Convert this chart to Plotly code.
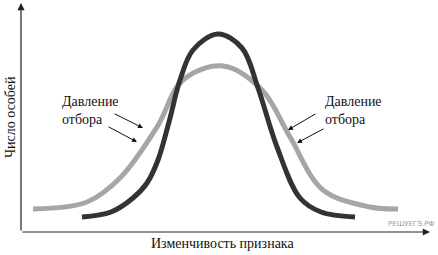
import plotly.graph_objects as go

# Curves (x: trait value, y: number of individuals)
dark_x = [61, 90, 112, 126, 137, 148, 159, 172, 197, 221, 237, 256, 279, 300, 334]
dark_y = [15, 20, 34, 49, 72, 110, 152, 182, 198, 184, 144, 85, 34, 20, 15]
gray_x = [12, 66, 99, 136, 162, 202, 241, 269, 302, 349, 377]
gray_y = [23, 30, 54, 105, 152, 166, 142, 95, 42, 25, 23]

label_text = "Давление<br>отбора"
y_title = "Число особей"
x_title = "Изменчивость признака"
watermark = "РЕШУЕГЭ.РФ"

fig = go.Figure()
fig.add_trace(go.Scatter(x=gray_x, y=gray_y, mode="lines",
                         line=dict(color="#a6a6a6", width=5, shape="spline", smoothing=1.0),
                         hoverinfo="skip", showlegend=False))
fig.add_trace(go.Scatter(x=dark_x, y=dark_y, mode="lines",
                         line=dict(color="#333333", width=5, shape="spline", smoothing=1.0),
                         hoverinfo="skip", showlegend=False))

serif = "'Liberation Serif', 'DejaVu Serif', serif"
ann = []
# axes with arrows
ann.append(dict(x=0, y=229, ax=0, ay=0, axref="x", ayref="y", xref="x", yref="y",
                showarrow=True, arrowhead=2, arrowsize=1.2, arrowwidth=1.2, arrowcolor="#222", text=""))
ann.append(dict(x=409, y=0, ax=0, ay=0, axref="x", ayref="y", xref="x", yref="y",
                showarrow=True, arrowhead=2, arrowsize=1.2, arrowwidth=1.2, arrowcolor="#222", text=""))
# pressure arrows
for (tx, ty, hx, hy) in [(92, 119, 122, 104), (86, 106, 116, 90), (296, 119, 267, 102), (304, 104, 276, 89)]:
    ann.append(dict(x=hx, y=hy, ax=tx, ay=ty, axref="x", ayref="y", xref="x", yref="y",
                    showarrow=True, arrowhead=2, arrowsize=1, arrowwidth=1, arrowcolor="#111", text=""))
# labels
ann.append(dict(x=39, y=122, xref="x", yref="y", text=label_text, showarrow=False,
                xanchor="left", yanchor="middle", align="left",
                font=dict(family=serif, size=14, color="#111")))
ann.append(dict(x=302, y=122, xref="x", yref="y", text=label_text, showarrow=False,
                xanchor="left", yanchor="middle", align="left",
                font=dict(family=serif, size=14, color="#111")))
ann.append(dict(x=-11, y=115, xref="x", yref="y", text=y_title, showarrow=False, textangle=-90,
                font=dict(family=serif, size=14, color="#111")))
ann.append(dict(x=201, y=-11, xref="x", yref="y", text=x_title, showarrow=False,
                font=dict(family=serif, size=14, color="#111")))
ann.append(dict(x=390, y=8, xref="x", yref="y", text=watermark, showarrow=False,
                font=dict(family="DejaVu Sans", size=7, color="#9a9a9a")))

fig.update_layout(
    width=438, height=255, margin=dict(l=0, r=0, t=0, b=0),
    paper_bgcolor="white", plot_bgcolor="white",
    font=dict(family=serif),
    xaxis=dict(range=[-21, 417], visible=False, fixedrange=True),
    yaxis=dict(range=[-23, 232], visible=False, fixedrange=True),
    annotations=ann,
)
fig.write_html("out.html")
